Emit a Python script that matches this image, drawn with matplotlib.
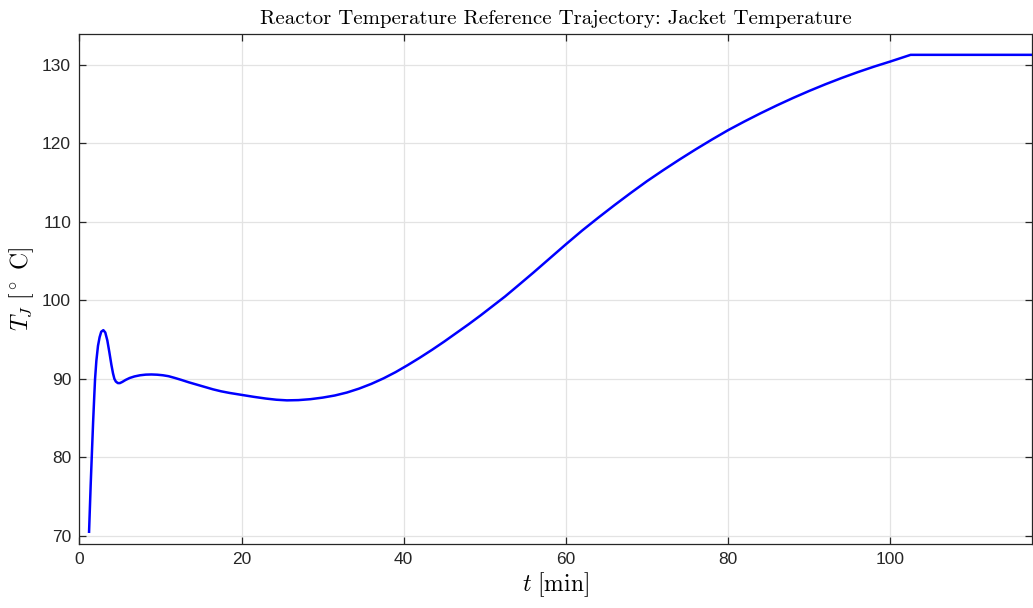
import matplotlib.pyplot as plt

plt.rcParams['mathtext.fontset'] = 'cm'
plt.rcParams['font.family'] = ['Liberation Sans', 'DejaVu Sans']

# jacket temperature reference trajectory (time in min, temperature in degC)
t_min = [1.2, 1.4, 1.53, 1.7, 1.85, 1.94, 2.1, 2.3, 2.5, 2.7, 2.96, 3.2, 3.45,
         3.7, 3.95, 4.15, 4.32, 4.5, 4.75, 5.0, 5.3, 5.7, 6.2, 6.8, 7.5, 8.2,
         8.9, 9.6, 10.3, 11.0, 11.8, 12.6, 13.5, 14.5, 15.5, 16.5, 17.5, 18.5,
         20, 21.5, 23, 24.3, 25.6, 27, 28.5, 30, 31.5, 33, 34.5, 36, 37.5, 39,
         40.5, 42, 43.5, 45, 46.5, 48, 49.5, 51, 52.5, 54, 56, 58, 60, 62, 64,
         66, 68, 70, 72, 74, 76, 78, 80, 82, 84, 86, 88, 90, 92, 94, 96, 98,
         100, 102.5, 117.5]
tj_degc = [70.5, 76.5, 80.0, 84.5, 88.0, 90.0, 92.3, 94.2, 95.3, 96.0, 96.2,
           95.9, 94.9, 93.4, 91.8, 90.7, 90.0, 89.65, 89.45, 89.45, 89.6,
           89.85, 90.1, 90.3, 90.45, 90.53, 90.55, 90.52, 90.45, 90.33, 90.1,
           89.85, 89.55, 89.25, 88.95, 88.65, 88.4, 88.2, 87.95, 87.7, 87.48,
           87.33, 87.25, 87.28, 87.4, 87.6, 87.87, 88.25, 88.75, 89.35, 90.05,
           90.85, 91.75, 92.7, 93.7, 94.75, 95.85, 96.95, 98.1, 99.3, 100.5,
           101.8, 103.55, 105.35, 107.15, 108.9, 110.55, 112.15, 113.7, 115.2,
           116.6, 117.95, 119.25, 120.5, 121.7, 122.8, 123.85, 124.85, 125.8,
           126.7, 127.55, 128.35, 129.1, 129.8, 130.45, 131.3, 131.3]

x_ticks = [0, 20, 40, 60, 80, 100]
y_ticks = [70, 80, 90, 100, 110, 120, 130]

fig = plt.figure(figsize=(10.33, 6.08), dpi=100)
ax = fig.add_axes([0.0768, 0.1053, 0.9225, 0.8387])

ax.plot(t_min, tj_degc, color='#0000ff', linewidth=1.8)

ax.set_xlim(0, 117.5)
ax.set_ylim(68.94, 133.95)
ax.set_xticks(x_ticks)
ax.set_yticks(y_ticks)
ax.grid(True, color='#e3e3e3', linewidth=0.9)
ax.set_axisbelow(True)

for s in ax.spines.values():
    s.set_color('#262626')
    s.set_linewidth(0.9)
ax.tick_params(direction='in', top=True, right=True, length=5, width=0.9,
               color='#262626', labelsize=12.5, labelcolor='#262626', pad=6)

ax.set_title('Reactor Temperature Reference Trajectory: Jacket Temperature',
             fontfamily='cmr10', fontsize=15, pad=7)
ax.set_xlabel(r'$t\ [\mathrm{min}]$', fontsize=17, labelpad=2)
ax.set_ylabel(r'$T_J\ [^\circ\ \mathrm{C}]$', fontsize=17, labelpad=4)

fig.savefig('out.png', dpi=100)
